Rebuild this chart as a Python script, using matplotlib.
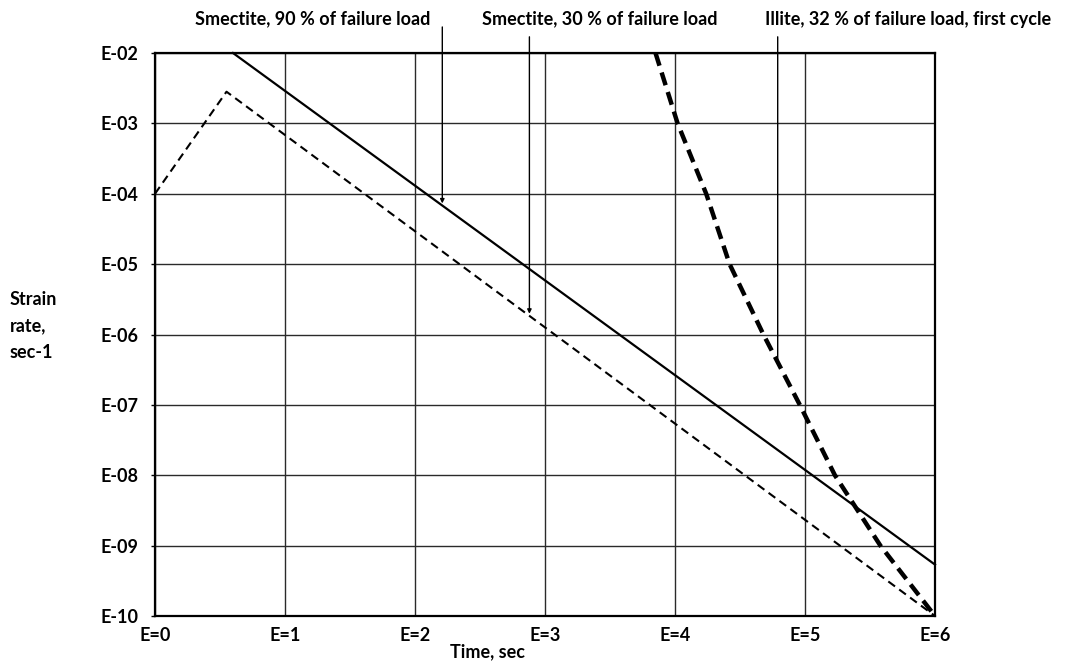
import numpy as np
import matplotlib
matplotlib.use('Agg')
import matplotlib.pyplot as plt

# axis ticks (log10 of time and strain rate)
x_ticks = [0, 1, 2, 3, 4, 5, 6]
x_labels = ["E=0", "E=1", "E=2", "E=3", "E=4", "E=5", "E=6"]
y_ticks = [-2, -3, -4, -5, -6, -7, -8, -9, -10]
y_labels = ["E-02", "E-03", "E-04", "E-05", "E-06", "E-07", "E-08", "E-09", "E-10"]

# curves (log10 time, log10 strain rate)
smectite90_x = [0.6, 6.0]
smectite90_y = [-2.0, -9.27]
smectite30_x = [0.0, 0.55, 6.0]
smectite30_y = [-4.0, -2.55, -10.0]
illite_x = [3.85, 4.02, 4.24, 4.42, 4.68, 4.96, 5.23, 5.58, 6.0]
illite_y = [-2.0, -3.0, -4.0, -5.0, -6.0, -7.0, -8.0, -9.0, -10.0]

labels = ["Smectite, 90 % of failure load",
          "Smectite, 30 % of failure load",
          "Illite, 32 % of failure load, first cycle"]
arrow_x = [2.21, 2.88, 4.79]

plt.rcParams['font.family'] = ['Lato', 'DejaVu Sans']
FS = 13

fig = plt.figure(figsize=(10.7, 6.65), dpi=100)
ax = fig.add_axes([155 / 1070, 1 - 616 / 665, 780 / 1070, 563 / 665])

ax.set_xlim(0, 6)
ax.set_ylim(-10, -2)
ax.set_xticks(x_ticks)
ax.set_xticklabels(x_labels)
ax.set_yticks(y_ticks)
ax.set_yticklabels(y_labels)
ax.tick_params(axis='both', labelsize=FS, length=3, width=1, color='black')
ax.tick_params(axis='x', length=0, pad=8)
ax.tick_params(axis='y', pad=9)
for lab in ax.get_xticklabels() + ax.get_yticklabels():
    lab.set_fontweight('bold')
ax.grid(True, color='#2a2a2a', linewidth=1)
for s in ax.spines.values():
    s.set_linewidth(1.6)
    s.set_color('black')

ax.plot(smectite90_x, smectite90_y, '-', color='black', linewidth=1.6, clip_on=False)
ax.plot(smectite30_x, smectite30_y, '--', color='black', linewidth=1.5,
        dashes=(4, 2.5), clip_on=False)
ax.plot(illite_x, illite_y, '--', color='black', linewidth=3.2,
        dashes=(3, 1.6), clip_on=False)

# arrows from the labels down to the curves
curves = [(smectite90_x, smectite90_y), (smectite30_x, smectite30_y), (illite_x, illite_y)]
arrow_top = [-1.63, -1.77, -1.77]
heads = ['-|>', '-|>', '-']
for (cx, cy), xa, yt, hs in zip(curves, arrow_x, arrow_top, heads):
    yl = np.interp(xa, cx, cy)
    ax.annotate('', xy=(xa, yl + 0.03), xytext=(xa, yt),
                xycoords='data', textcoords='data', annotation_clip=False,
                arrowprops=dict(arrowstyle=hs, color='black', lw=1,
                                mutation_scale=6, shrinkA=0, shrinkB=0))

label_x = [313, 600, 908]
for lab, lx in zip(labels, label_x):
    fig.text(lx / 1070, 1 - 19 / 665, lab, ha='center', va='center',
             fontsize=FS, fontweight='bold')

fig.text(10 / 1070, 1 - 326 / 665, "Strain\nrate,\nsec-1", ha='left', va='center',
         fontsize=FS, fontweight='bold', linespacing=1.7)
fig.text(488 / 1070, 1 - 652 / 665, "Time, sec", ha='center', va='center',
         fontsize=FS, fontweight='bold')

fig.savefig('out.png', dpi=100)
